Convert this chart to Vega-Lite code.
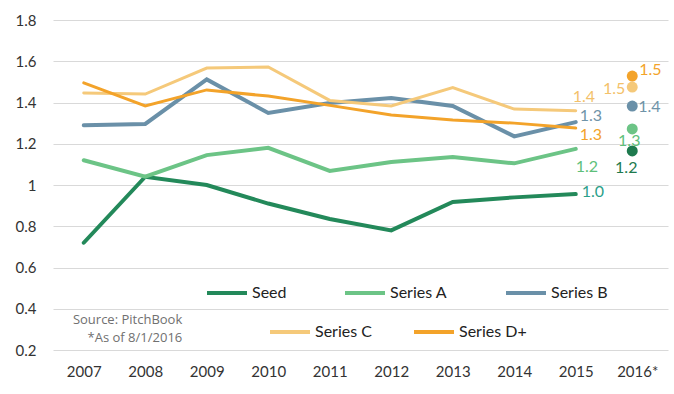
{
  "$schema": "https://vega.github.io/schema/vega-lite/v6.json",
  "width": 615,
  "height": 330,
  "autosize": {"type": "none"},
  "padding": {"left": 53, "top": 20, "right": 6, "bottom": 44},
  "background": "white",
  "config": {
    "view": {"stroke": null},
    "font": "Lato",
    "axis": {"labelFont": "Lato", "labelFontSize": 15, "labelColor": "#333333"}
  },
  "data": {
    "values": [
      {"year": "2007", "series": "Seed", "value": 0.72},
      {"year": "2008", "series": "Seed", "value": 1.04},
      {"year": "2009", "series": "Seed", "value": 1.0},
      {"year": "2010", "series": "Seed", "value": 0.91},
      {"year": "2011", "series": "Seed", "value": 0.835},
      {"year": "2012", "series": "Seed", "value": 0.78},
      {"year": "2013", "series": "Seed", "value": 0.918},
      {"year": "2014", "series": "Seed", "value": 0.94},
      {"year": "2015", "series": "Seed", "value": 0.956},
      {"year": "2016*", "series": "Seed", "value": 1.165},
      {"year": "2007", "series": "Series A", "value": 1.12},
      {"year": "2008", "series": "Series A", "value": 1.04},
      {"year": "2009", "series": "Series A", "value": 1.145},
      {"year": "2010", "series": "Series A", "value": 1.18},
      {"year": "2011", "series": "Series A", "value": 1.068},
      {"year": "2012", "series": "Series A", "value": 1.112},
      {"year": "2013", "series": "Series A", "value": 1.136},
      {"year": "2014", "series": "Series A", "value": 1.105},
      {"year": "2015", "series": "Series A", "value": 1.175},
      {"year": "2016*", "series": "Series A", "value": 1.272},
      {"year": "2007", "series": "Series B", "value": 1.29},
      {"year": "2008", "series": "Series B", "value": 1.296},
      {"year": "2009", "series": "Series B", "value": 1.512},
      {"year": "2010", "series": "Series B", "value": 1.349},
      {"year": "2011", "series": "Series B", "value": 1.398},
      {"year": "2012", "series": "Series B", "value": 1.422},
      {"year": "2013", "series": "Series B", "value": 1.383},
      {"year": "2014", "series": "Series B", "value": 1.236},
      {"year": "2015", "series": "Series B", "value": 1.305},
      {"year": "2016*", "series": "Series B", "value": 1.383},
      {"year": "2007", "series": "Series C", "value": 1.446},
      {"year": "2008", "series": "Series C", "value": 1.441},
      {"year": "2009", "series": "Series C", "value": 1.567},
      {"year": "2010", "series": "Series C", "value": 1.572},
      {"year": "2011", "series": "Series C", "value": 1.41},
      {"year": "2012", "series": "Series C", "value": 1.383},
      {"year": "2013", "series": "Series C", "value": 1.472},
      {"year": "2014", "series": "Series C", "value": 1.368},
      {"year": "2015", "series": "Series C", "value": 1.36},
      {"year": "2016*", "series": "Series C", "value": 1.475},
      {"year": "2007", "series": "Series D+", "value": 1.495},
      {"year": "2008", "series": "Series D+", "value": 1.383},
      {"year": "2009", "series": "Series D+", "value": 1.461},
      {"year": "2010", "series": "Series D+", "value": 1.431},
      {"year": "2011", "series": "Series D+", "value": 1.386},
      {"year": "2012", "series": "Series D+", "value": 1.339},
      {"year": "2013", "series": "Series D+", "value": 1.315},
      {"year": "2014", "series": "Series D+", "value": 1.3},
      {"year": "2015", "series": "Series D+", "value": 1.276},
      {"year": "2016*", "series": "Series D+", "value": 1.528}
    ]
  },
  "encoding": {
    "x": {
      "field": "year", "type": "nominal", "sort": null,
      "scale": {"type": "point", "padding": 0.5,
        "domain": ["2007","2008","2009","2010","2011","2012","2013","2014","2015","2016*"]},
      "axis": {"title": null, "domain": false, "ticks": false, "labelAngle": 0, "labelPadding": 14, "grid": false}
    },
    "y": {
      "field": "value", "type": "quantitative",
      "scale": {"domain": [0.2, 1.8], "nice": false, "zero": false},
      "axis": {"title": null, "domain": false, "ticks": false, "values": [0.2,0.4,0.6,0.8,1,1.2,1.4,1.6,1.8],
        "format": "~g", "labelPadding": 17, "grid": true, "gridColor": "#d9d9d9", "gridWidth": 1}
    }
  },
  "layer": [
    {
      "transform": [{"filter": "datum.year != '2016*' && (datum.series == 'Seed' || datum.series == 'Series A' || datum.series == 'Series B')"}],
      "mark": {"type": "line", "strokeWidth": 4, "strokeCap": "round"},
      "encoding": {
        "color": {
          "field": "series", "type": "nominal",
          "scale": {"domain": ["Seed", "Series A", "Series B"], "range": ["#23895a", "#6cc486", "#6a90a8"]},
          "legend": {
            "title": null, "orient": "none", "direction": "horizontal", "legendX": 152, "legendY": 251,
            "symbolType": "stroke", "symbolSize": 1600, "symbolStrokeWidth": 4, "labelFontSize": 16,
            "labelFont": "Lato", "labelColor": "#222222", "labelOffset": 3, "columnPadding": 50
          }
        }
      }
    },
    {
      "transform": [{"filter": "datum.year != '2016*' && (datum.series == 'Series C' || datum.series == 'Series D+')"}],
      "mark": {"type": "line", "strokeWidth": 3, "strokeCap": "round"},
      "encoding": {
        "color": {
          "field": "series", "type": "nominal",
          "scale": {"domain": ["Series C", "Series D+"], "range": ["#f5c97a", "#f3a32a"]},
          "legend": {
            "title": null, "orient": "none", "direction": "horizontal", "legendX": 215, "legendY": 290,
            "symbolType": "stroke", "symbolSize": 1600, "symbolStrokeWidth": 4, "labelFontSize": 16,
            "labelFont": "Lato", "labelColor": "#222222", "labelOffset": 3, "columnPadding": 34
          }
        }
      }
    },
    {
      "transform": [{"filter": "datum.year == '2016*'"}],
      "mark": {"type": "circle", "size": 120, "opacity": 1, "xOffset": -5},
      "encoding": {
        "color": {
          "field": "series", "type": "nominal",
          "scale": {"domain": ["Seed", "Series A", "Series B", "Series C", "Series D+"],
            "range": ["#1e7a4e", "#6cc486", "#6a90a8", "#f5c97a", "#f3a32a"]},
          "legend": null
        }
      }
    },
    {
      "transform": [{"filter": "datum.year == '2015' && datum.series == 'Seed'"}],
      "mark": {"type": "text", "align": "left", "baseline": "middle", "dx": 6, "dy": -2, "fontSize": 16, "color": "#2ba08a"},
      "encoding": {"text": {"field": "value", "type": "quantitative", "format": ".1f"}}
    },
    {
      "transform": [{"filter": "datum.year == '2015' && datum.series == 'Series A'"}],
      "mark": {"type": "text", "align": "left", "baseline": "middle", "dx": 0, "dy": 18, "fontSize": 16, "color": "#5ebf7a"},
      "encoding": {"text": {"field": "value", "type": "quantitative", "format": ".1f"}}
    },
    {
      "transform": [{"filter": "datum.year == '2015' && datum.series == 'Series B'"}],
      "mark": {"type": "text", "align": "left", "baseline": "middle", "dx": 4, "dy": -6, "fontSize": 16, "color": "#6f93a8"},
      "encoding": {"text": {"field": "value", "type": "quantitative", "format": ".1f"}}
    },
    {
      "transform": [{"filter": "datum.year == '2015' && datum.series == 'Series C'"}],
      "mark": {"type": "text", "align": "left", "baseline": "middle", "dx": -3, "dy": -14, "fontSize": 16, "color": "#f3c16a"},
      "encoding": {"text": {"field": "value", "type": "quantitative", "format": ".1f"}}
    },
    {
      "transform": [{"filter": "datum.year == '2015' && datum.series == 'Series D+'"}],
      "mark": {"type": "text", "align": "left", "baseline": "middle", "dx": 4, "dy": 7, "fontSize": 16, "color": "#f3a32a"},
      "encoding": {"text": {"field": "value", "type": "quantitative", "format": ".1f"}}
    },
    {
      "transform": [{"filter": "datum.year == '2016*' && datum.series == 'Seed'"}],
      "mark": {"type": "text", "align": "center", "baseline": "middle", "dx": -11, "dy": 17, "fontSize": 16, "color": "#1e7a4e"},
      "encoding": {"text": {"field": "value", "type": "quantitative", "format": ".1f"}}
    },
    {
      "transform": [{"filter": "datum.year == '2016*' && datum.series == 'Series A'"}],
      "mark": {"type": "text", "align": "center", "baseline": "middle", "dx": -8, "dy": 12, "fontSize": 16, "color": "#5ebf7a"},
      "encoding": {"text": {"field": "value", "type": "quantitative", "format": ".1f"}}
    },
    {
      "transform": [{"filter": "datum.year == '2016*' && datum.series == 'Series B'"}],
      "mark": {"type": "text", "align": "left", "baseline": "middle", "dx": 1, "dy": 1, "fontSize": 16, "color": "#6f93a8"},
      "encoding": {"text": {"field": "value", "type": "quantitative", "format": ".1f"}}
    },
    {
      "transform": [{"filter": "datum.year == '2016*' && datum.series == 'Series C'"}],
      "mark": {"type": "text", "align": "right", "baseline": "middle", "dx": -12, "dy": 2, "fontSize": 16, "color": "#f3c16a"},
      "encoding": {"text": {"field": "value", "type": "quantitative", "format": ".1f"}}
    },
    {
      "transform": [{"filter": "datum.year == '2016*' && datum.series == 'Series D+'"}],
      "mark": {"type": "text", "align": "left", "baseline": "middle", "dx": 2, "dy": -6, "fontSize": 16, "color": "#f3a32a"},
      "encoding": {"text": {"field": "value", "type": "quantitative", "format": ".1f"}}
    },
    {
      "data": {"values": [
        {"year": "2008", "value": 0.345, "label": "Source: PitchBook"},
        {"year": "2008", "value": 0.258, "label": "*As of 8/1/2016"}
      ]},
      "mark": {"type": "text", "align": "right", "baseline": "middle", "dx": 37, "fontSize": 13, "font": "Open Sans", "color": "#707070"},
      "encoding": {"text": {"field": "label", "type": "nominal"}}
    }
  ],
  "resolve": {"scale": {"color": "independent"}}
}
